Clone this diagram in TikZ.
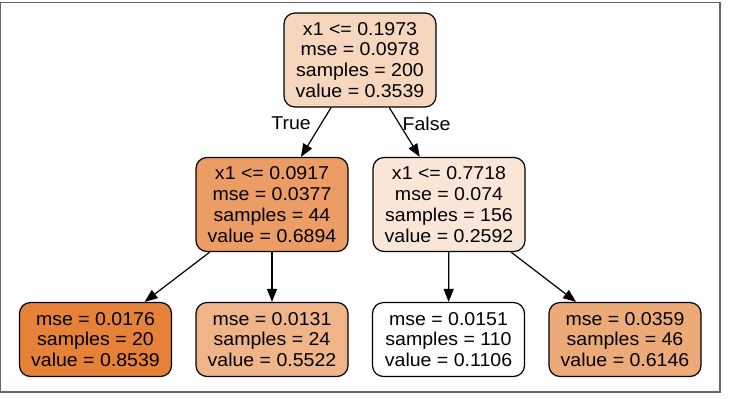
\documentclass[tikz,border=0pt]{standalone}
\usepackage{fontspec}
\setmainfont[FakeStretch=1.05]{Liberation Sans}
\usetikzlibrary{arrows.meta}

\definecolor{rootfill}{RGB}{247,214,190}
\definecolor{leftfill}{RGB}{235,157,101}
\definecolor{rightfill}{RGB}{250,230,215}
\definecolor{leafafill}{RGB}{229,129,57}
\definecolor{leafbfill}{RGB}{240,180,137}
\definecolor{leafdfill}{RGB}{237,170,121}

\begin{document}
\begin{tikzpicture}[x=1bp,y=-1bp,
    treebox/.style={draw=black,line width=1.2bp,rounded corners=11bp,align=center,
      minimum width=152bp,inner sep=0pt,font=\fontsize{18.6bp}{20.9bp}\selectfont},
    splitbox/.style={treebox,minimum height=94bp},
    leafbox/.style={treebox,minimum height=74bp},
    branch/.style={-{Triangle[length=13bp,width=10bp]},line width=1.2bp},
    branchlabel/.style={font=\fontsize{18.6bp}{20.9bp}\selectfont,inner sep=0pt}]
    \useasboundingbox (0,0) rectangle (729,398);
    \draw[black!60,line width=1.3bp] (0.75,2.5) rectangle (720,392);
    \node[splitbox,fill=rootfill] (root) at (360,60) {x1 <= 0.1973\\mse = 0.0978\\samples = 200\\value = 0.3539};
    \node[splitbox,fill=leftfill] (splitleft) at (272,204.5) {x1 <= 0.0917\\mse = 0.0377\\samples = 44\\value = 0.6894};
    \node[splitbox,fill=rightfill] (splitright) at (449,204.5) {x1 <= 0.7718\\mse = 0.074\\samples = 156\\value = 0.2592};
    \node[leafbox,fill=leafafill] (leafa) at (95.5,339.5) {mse = 0.0176\\samples = 20\\value = 0.8539};
    \node[leafbox,fill=leafbfill] (leafb) at (272,339.5) {mse = 0.0131\\samples = 24\\value = 0.5522};
    \node[leafbox,fill=white] (leafc) at (448.5,339.5) {mse = 0.0151\\samples = 110\\value = 0.1106};
    \node[leafbox,fill=leafdfill] (leafd) at (625,339.5) {mse = 0.0359\\samples = 46\\value = 0.6146};
    \draw[branch] (root) -- node[branchlabel,pos=0.32,left=10bp] {True} (splitleft);
    \draw[branch] (root) -- node[branchlabel,pos=0.32,right=3bp] {False} (splitright);
    \draw[branch] (splitleft) -- (leafa);
    \draw[branch] (splitleft) -- (leafb);
    \draw[branch] (splitright) -- (leafc);
    \draw[branch] (splitright) -- (leafd);
\end{tikzpicture}
\end{document}
